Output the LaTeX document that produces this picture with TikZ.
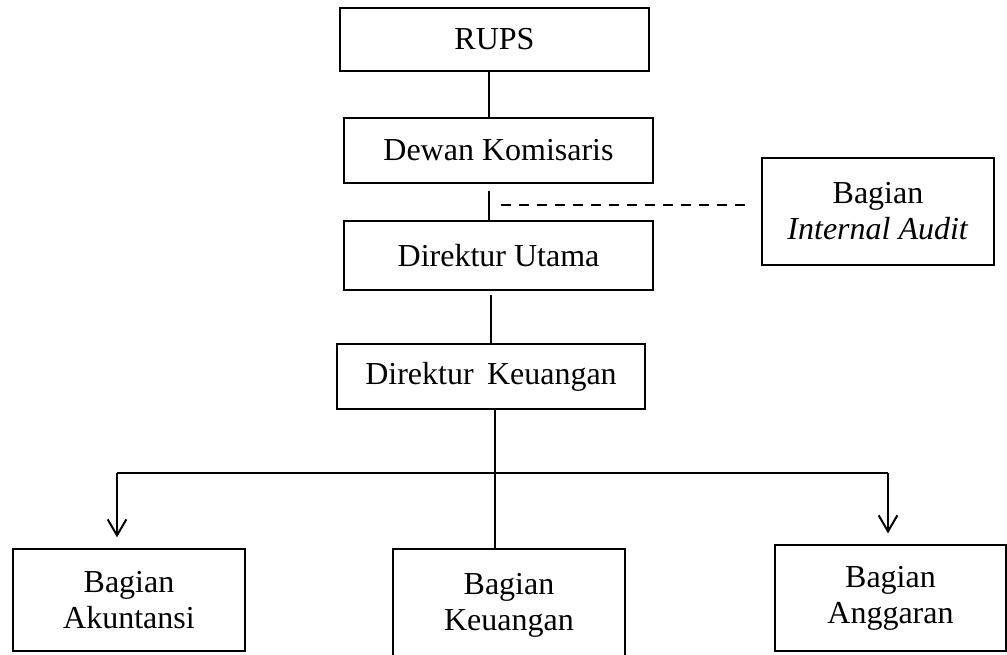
\documentclass[tikz,border=0pt]{standalone}
\usepackage{fontspec}
\setmainfont{Liberation Serif}
\usetikzlibrary{arrows.meta}
\begin{document}
\begin{tikzpicture}[x=0.75pt,y=-0.75pt,
  box/.style={draw,line width=1.5pt,inner sep=0pt,align=center,
    font=\fontsize{24}{27}\selectfont},
  conn/.style={line width=1.1pt},
  branch/.style={line width=1.5pt},
  arr/.style={line width=1.5pt,-{Straight Barb[length=12pt,width=14pt]},shorten >=8pt},
  dashline/.style={line width=1.3pt,dash pattern=on 7.5pt off 6pt}]
\useasboundingbox (0,0) rectangle (1007,654);
\node[box,minimum width=231.75pt,minimum height=47.25pt] (rups) at (494.5,39.5) {RUPS};
\node[box,minimum width=231.75pt,minimum height=48.75pt] (dewan) at (498.5,150.5) {Dewan Komisaris};
\node[box,minimum width=231.75pt,minimum height=51.75pt] (utama) at (498.5,255.5) {Direktur Utama};
\node[box,minimum width=231pt,minimum height=48.75pt] (dirkeu) at (491,376.5) {Direktur\, Keuangan};
\node[box,minimum width=174pt,minimum height=80.25pt] (audit) at (878,211.5) {Bagian\\\textit{Internal Audit}};
\node[box,minimum width=174pt,minimum height=76.5pt] (akun) at (129,600) {Bagian\\Akuntansi};
\node[box,minimum width=174pt,minimum height=84pt] (bkeu) at (509,605) {Bagian\\Keuangan};
\node[box,minimum width=173.25pt,minimum height=79.5pt] (angg) at (890.5,598) {Bagian\\Anggaran};
\coordinate (c1) at (489,0);
\coordinate (c2) at (491,0);
\coordinate (c3) at (495,0);
\coordinate (d0) at (501,205);
\coordinate (hl) at (117,473);
\coordinate (hr) at (888,473);
\draw[conn] (rups.south -| c1) -- (dewan.north -| c1);
\draw[conn,shorten <=5pt] (dewan.south -| c1) -- (utama.north -| c1);
\draw[dashline] (d0) -- (d0 -| audit.west) [shorten >=6.75pt];
\draw[conn,shorten <=3pt] (utama.south -| c2) -- (dirkeu.north -| c2);
\draw[conn] (dirkeu.south -| c3) -- (bkeu.north -| c3);
\draw[branch] (hl) -- (hr);
\draw[arr] (hl) -- (hl |- akun.north);
\draw[arr] (hr) -- (hr |- angg.north);
\end{tikzpicture}
\end{document}
